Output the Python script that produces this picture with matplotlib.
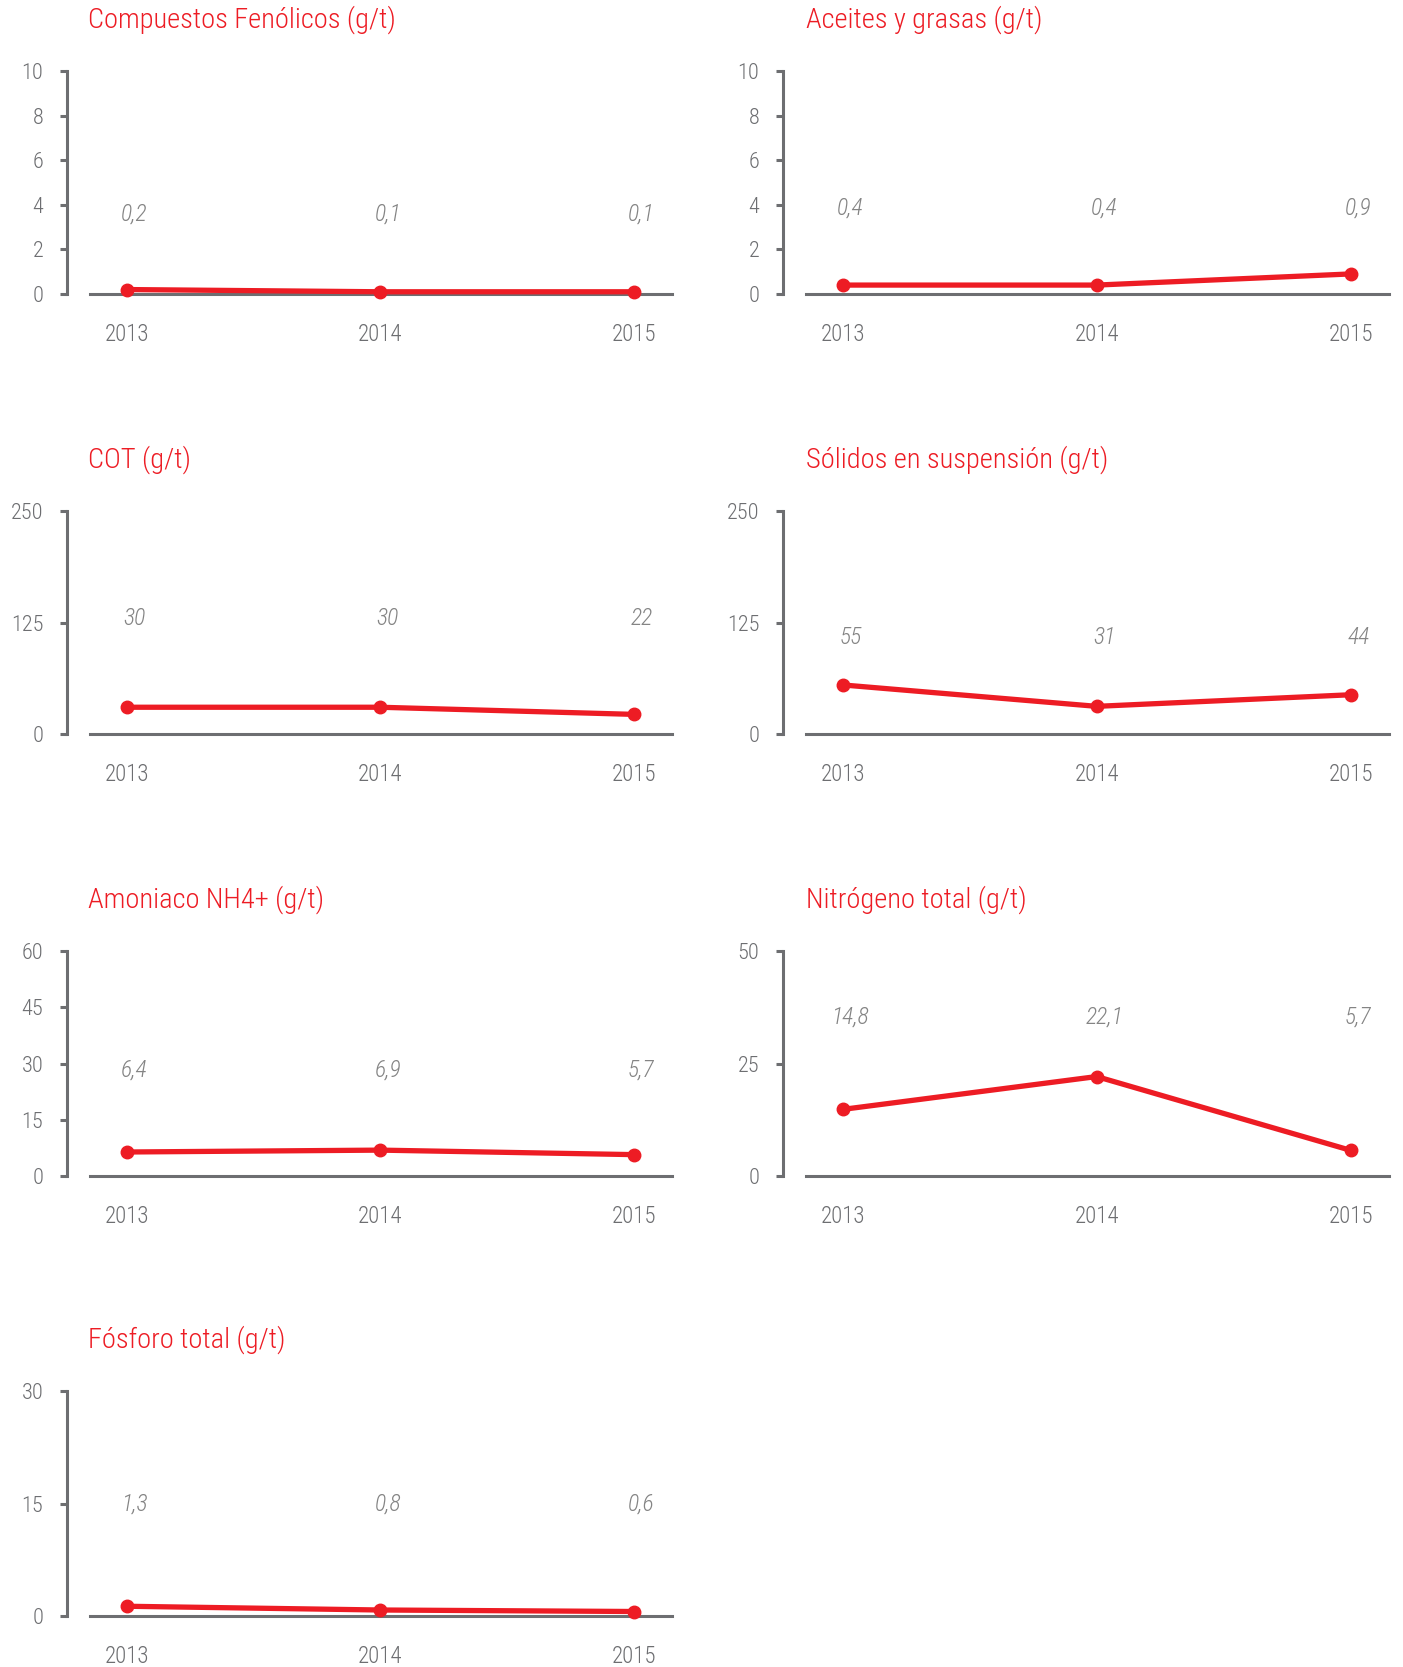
import matplotlib
matplotlib.use("Agg")
import matplotlib.pyplot as plt
from matplotlib import font_manager

# datos por indicador (g/t)
years = [2013, 2014, 2015]

fenolicos = [0.2, 0.1, 0.1]
aceites = [0.4, 0.4, 0.9]
cot = [30, 30, 22]
solidos = [55, 31, 44]
amoniaco = [6.4, 6.9, 5.7]
nitrogeno = [14.8, 22.1, 5.7]
fosforo = [1.3, 0.8, 0.6]

titulos = ["Compuestos Fenólicos (g/t)", "Aceites y grasas (g/t)",
           "COT (g/t)", "Sólidos en suspensión (g/t)",
           "Amoniaco NH4+ (g/t)", "Nitrógeno total (g/t)",
           "Fósforo total (g/t)"]
series = [fenolicos, aceites, cot, solidos, amoniaco, nitrogeno, fosforo]
decimales = [1, 1, 0, 0, 1, 1, 1]
escalas = [[0, 2, 4, 6, 8, 10], [0, 2, 4, 6, 8, 10],
           [0, 125, 250], [0, 125, 250],
           [0, 15, 30, 45, 60], [0, 25, 50],
           [0, 15, 30]]

# altura de las etiquetas de valor (fraccion del eje)
alto_etiqueta = [0.357, 0.386, 0.519, 0.433, 0.469, 0.706, 0.498]

ROJO = "#ED1C24"
GRIS = "#6D6E71"
GRIS_CLARO = "#848484"

disponibles = {f.name for f in font_manager.fontManager.ttflist}
familia = [f for f in ["Roboto Condensed", "Liberation Sans Narrow", "Roboto", "DejaVu Sans"]
           if f in disponibles]
plt.rcParams["font.family"] = familia
plt.rcParams["font.weight"] = "light"

W, H = 1403, 1667
fig = plt.figure(figsize=(W / 100, H / 100), dpi=100)

# posiciones en pixeles: columnas (eje y, final de la linea base), filas (arriba, abajo)
columnas = [(67, 672), (783, 1389)]
filas = [(71, 294), (511, 734), (951, 1176), (1391, 1616)]
x_izq = 2012.765
x_der = 2015.151
x_base = 2012.857

for i, (titulo, vals) in enumerate(zip(titulos, series)):
    c0, c1 = columnas[i % 2]
    f0, f1 = filas[i // 2]
    ax = fig.add_axes([c0 / W, 1 - f1 / H, (c1 - c0) / W, (f1 - f0) / H])

    ymax = escalas[i][-1]
    ax.plot(years, vals, color=ROJO, lw=3.8, marker="o", ms=9,
            solid_capstyle="round", clip_on=False, zorder=3)
    ax.set_xlim(x_izq, x_der)
    ax.set_ylim(0, ymax)

    for s in ["top", "right"]:
        ax.spines[s].set_visible(False)
    ax.spines["left"].set_color(GRIS)
    ax.spines["left"].set_linewidth(2.2)
    ax.spines["bottom"].set_color(GRIS)
    ax.spines["bottom"].set_linewidth(2.2)
    ax.spines["bottom"].set_bounds(x_base, x_der)

    ax.set_yticks(escalas[i])
    ax.set_yticklabels([str(v) for v in escalas[i]])
    ax.set_xticks(years)
    ax.set_xticklabels([str(y) for y in years])
    ax.tick_params(axis="y", length=5, width=2.2, color=GRIS, labelcolor=GRIS,
                   labelsize=16, pad=12)
    ax.tick_params(axis="x", length=0, labelcolor=GRIS, labelsize=16.5, pad=21)

    # etiquetas con el valor de cada año
    for x, v in zip(years, vals):
        txt = f"{v:.{decimales[i]}f}".replace(".", ",")
        ax.text(x + 0.03, alto_etiqueta[i], txt, transform=ax.get_xaxis_transform(),
                ha="center", va="center", fontsize=17, style="italic",
                color=GRIS_CLARO)

    tx = 88 if i % 2 == 0 else 806
    fig.text(tx / W, 1 - (f0 - 51) / H, titulo, color=ROJO, fontsize=20.5,
             ha="left", va="center")

fig.savefig("out.png", dpi=100, facecolor="white")
